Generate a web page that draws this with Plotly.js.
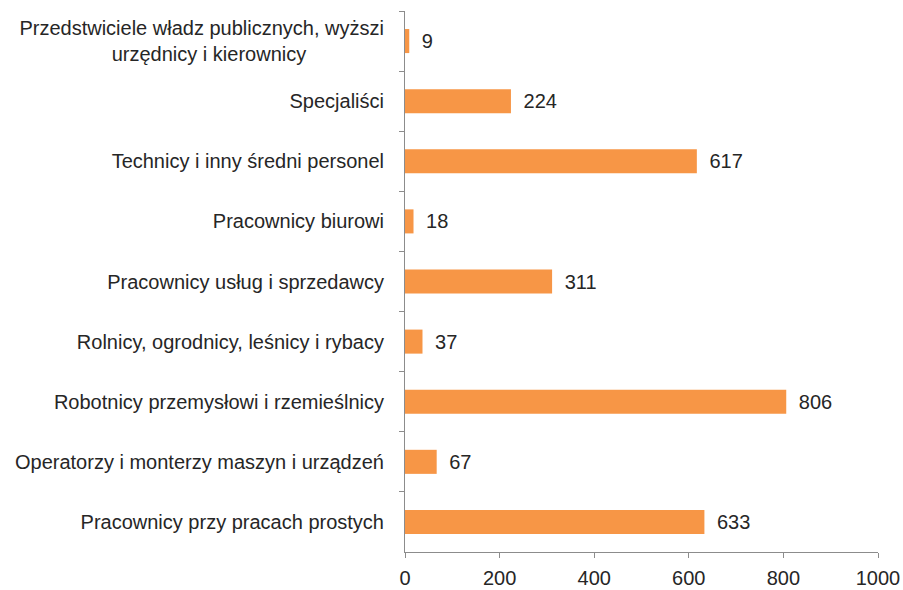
<!DOCTYPE html>
<html>
<head>
<meta charset="utf-8">
<script src="https://cdn.plot.ly/plotly-3.0.1.min.js"></script>
<style>
  body { margin: 0; background: #fff; }
  #graph { width: 903px; height: 590px; }
</style>
</head>
<body>
<div id="graph"></div>
<script>
// categories, top to bottom
var occupations = [
    "Przedstwiciele władz publicznych, wyższi<br>urzędnicy i kierownicy" + "\u00a0".repeat(14),
    "Specjaliści",
    "Technicy i inny średni personel",
    "Pracownicy biurowi",
    "Pracownicy usług i sprzedawcy",
    "Rolnicy, ogrodnicy, leśnicy i rybacy",
    "Robotnicy przemysłowi i rzemieślnicy",
    "Operatorzy i monterzy maszyn i urządzeń",
    "Pracownicy przy pracach prostych"
];
var counts = [9, 224, 617, 18, 311, 37, 806, 67, 633];
var xTicks = [0, 200, 400, 600, 800, 1000];

var axisGrey = '#8c8c8c';
var textCol = '#262626';
var fontSize = 20;

var trace = {
    type: 'bar',
    orientation: 'h',
    x: counts,
    y: occupations,
    marker: { color: '#F79646' },
    text: counts,
    texttemplate: '\u00a0\u2009%{x}',
    textposition: 'outside',
    cliponaxis: false,
    textfont: { family: 'Liberation Sans, Arial', size: fontSize, color: textCol },
    hoverinfo: 'x+y'
};

var layout = {
    width: 903,
    height: 590,
    margin: { l: 405, r: 25, t: 11, b: 38 },
    paper_bgcolor: '#fff',
    plot_bgcolor: '#fff',
    bargap: 0.6,
    showlegend: false,
    font: { family: 'Liberation Sans, Arial', size: fontSize, color: textCol },
    xaxis: {
        range: [0, 1000],
        tickvals: xTicks,
        ticktext: xTicks.map(String),
        showgrid: false,
        zeroline: false,
        showline: true,
        linecolor: axisGrey,
        linewidth: 1,
        ticks: 'outside',
        ticklen: 5,
        tickcolor: axisGrey,
        ticklabelstandoff: 3,
        tickfont: { size: fontSize, color: textCol }
    },
    yaxis: {
        type: 'category',
        categoryorder: 'array',
        categoryarray: occupations,
        autorange: 'reversed',
        showgrid: false,
        zeroline: false,
        showline: true,
        linecolor: axisGrey,
        linewidth: 1,
        ticks: 'outside',
        tickson: 'boundaries',
        ticklen: 5,
        tickcolor: axisGrey,
        ticklabelstandoff: 16,
        tickfont: { size: fontSize, color: textCol }
    }
};

Plotly.newPlot('graph', [trace], layout, { displayModeBar: false, staticPlot: true });
</script>
</body>
</html>
